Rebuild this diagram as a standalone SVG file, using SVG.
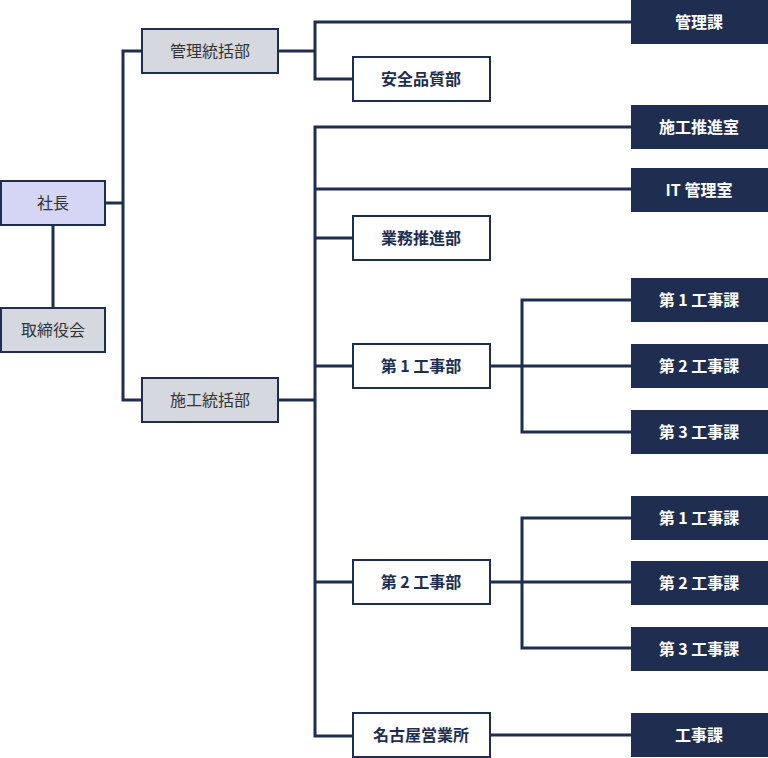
<svg xmlns="http://www.w3.org/2000/svg" width="768" height="758" viewBox="0 0 768 758">
<style>
text{font-family:"Noto Sans CJK JP","Noto Sans",sans-serif;font-size:16px;text-anchor:middle;dominant-baseline:central}
.gray rect{fill:#d5d8df;stroke:#1e2d50;stroke-width:2}
.gray text{fill:#333;font-weight:400}
.top rect{fill:#d5d5f5;stroke:#1e2d50;stroke-width:2}
.top text{fill:#333}
.white rect{fill:#fff;stroke:#1e2d50;stroke-width:2}
.white text{fill:#1e2d50;font-weight:700}
.dark rect{fill:#1e2d50}
.dark text{fill:#fff;font-weight:700}
#connectors path{fill:none;stroke:#1e2d50;stroke-width:3}
</style>
<g id="connectors">
<path d="M53 225V308"/>
<path d="M105 203H123"/>
<path d="M142 51H123V400H142"/>
<path d="M278 51H315"/>
<path d="M631 22H315V79H353"/>
<path d="M278 400H315"/>
<path d="M631 127H315V736H353"/>
<path d="M315 189H631"/>
<path d="M315 238H353"/>
<path d="M315 366H353"/>
<path d="M315 582H353"/>
<path d="M490 366H631"/>
<path d="M631 300H522V432H631"/>
<path d="M490 582H631"/>
<path d="M631 518H522V648H631"/>
<path d="M490 735H631"/>
</g>
<g id="shacho" class="top"><rect x="1" y="181" width="104" height="44"/><text x="53" y="202">社長</text></g>
<g id="torishimariyakukai" class="gray"><rect x="1" y="308" width="104" height="44"/><text x="53" y="329">取締役会</text></g>
<g id="kanri-tokatsubu" class="gray"><rect x="142" y="29" width="136" height="44"/><text x="210" y="50">管理統括部</text></g>
<g id="seko-tokatsubu" class="gray"><rect x="142" y="378" width="136" height="44"/><text x="210" y="399">施工統括部</text></g>
<g id="anzen" class="white"><rect x="353" y="57" width="137" height="44"/><text x="421" y="78">安全品質部</text></g>
<g id="gyomu" class="white"><rect x="353" y="216" width="137" height="44"/><text x="421" y="237">業務推進部</text></g>
<g id="koji1bu" class="white"><rect x="353" y="344" width="137" height="44"/><text x="421" y="365">第 1 工事部</text></g>
<g id="koji2bu" class="white"><rect x="353" y="560" width="137" height="44"/><text x="421" y="581">第 2 工事部</text></g>
<g id="nagoya" class="white"><rect x="353" y="713" width="137" height="44"/><text x="421" y="734">名古屋営業所</text></g>
<g id="kanrika" class="dark"><rect x="631" y="0" width="137" height="44"/><text x="699" y="21">管理課</text></g>
<g id="suishinshitsu" class="dark"><rect x="631" y="105" width="137" height="44"/><text x="699" y="126">施工推進室</text></g>
<g id="it" class="dark"><rect x="631" y="168" width="137" height="44"/><text x="699" y="189">IT 管理室</text></g>
<g id="k1-1" class="dark"><rect x="631" y="278" width="137" height="44"/><text x="699" y="299">第 1 工事課</text></g>
<g id="k1-2" class="dark"><rect x="631" y="344" width="137" height="44"/><text x="699" y="365">第 2 工事課</text></g>
<g id="k1-3" class="dark"><rect x="631" y="410" width="137" height="44"/><text x="699" y="431">第 3 工事課</text></g>
<g id="k2-1" class="dark"><rect x="631" y="496" width="137" height="44"/><text x="699" y="517">第 1 工事課</text></g>
<g id="k2-2" class="dark"><rect x="631" y="561" width="137" height="44"/><text x="699" y="582">第 2 工事課</text></g>
<g id="k2-3" class="dark"><rect x="631" y="627" width="137" height="44"/><text x="699" y="648">第 3 工事課</text></g>
<g id="kojika" class="dark"><rect x="631" y="713" width="137" height="44"/><text x="699" y="734">工事課</text></g>
</svg>
